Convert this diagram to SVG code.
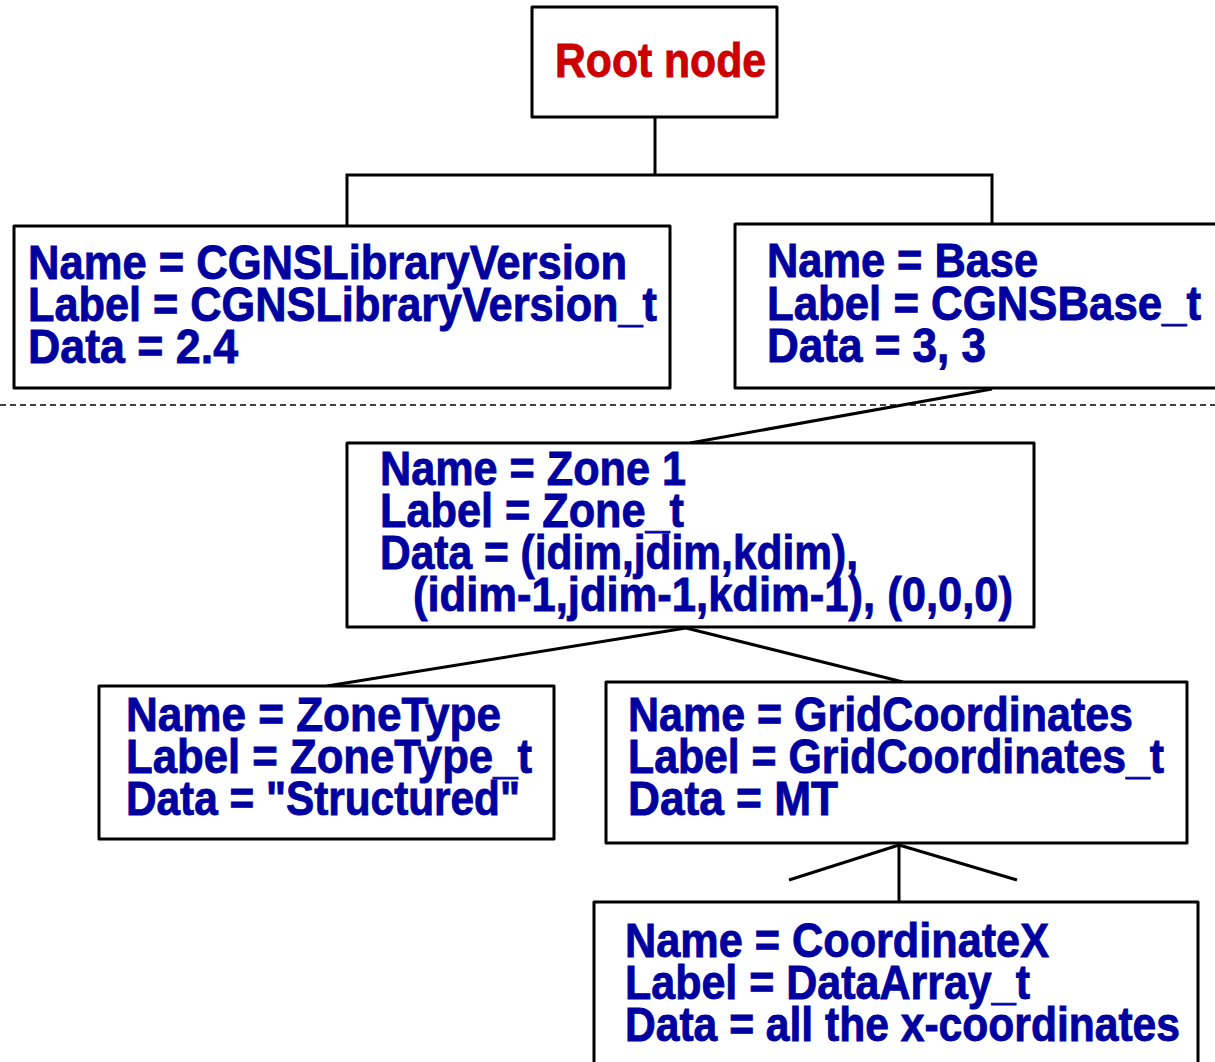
<svg xmlns="http://www.w3.org/2000/svg" width="1215" height="1062" viewBox="0 0 1215 1062">
  <style>
    .box { fill: #ffffff; stroke: #000000; stroke-width: 3; stroke-linejoin: round; }
    .wire { fill: none; stroke: #000000; stroke-width: 3; }
    .sep { fill: none; stroke: #000000; stroke-width: 1.5; stroke-dasharray: 6 4; }
    .t { font-family: "Liberation Sans", Arial, sans-serif; font-weight: bold; font-size: 49px; fill: #0000A0; stroke: #0000A0; stroke-width: 0.9; }
    .root { fill: #CC0000; stroke: #CC0000; }
  </style>
  <rect width="1215" height="1062" fill="#ffffff"/>

  <!-- tree connectors -->
  <g id="connectors">
    <polyline class="wire" points="655,117 655,175"/>
    <polyline class="wire" points="347,226 347,175 992,175 992,224"/>
    <line class="wire" x1="992" y1="389" x2="690" y2="443"/>
    <line class="wire" x1="686" y1="628" x2="327" y2="686"/>
    <line class="wire" x1="686" y1="628" x2="903" y2="682"/>
    <line class="wire" x1="899" y1="843" x2="899" y2="902"/>
    <line class="wire" x1="899" y1="845" x2="789" y2="880"/>
    <line class="wire" x1="899" y1="845" x2="1017" y2="880"/>
  </g>

  <!-- separator between top-level nodes and base contents -->
  <line class="sep" x1="0" y1="405" x2="1215" y2="405"/>

  <g id="root">
    <rect class="box" x="532" y="7" width="245" height="110"/>
    <text class="t root" x="555" y="77" textLength="211" lengthAdjust="spacingAndGlyphs">Root node</text>
  </g>

  <g id="libversion">
    <rect class="box" x="14" y="226" width="656" height="162"/>
    <text class="t" x="28" y="279" textLength="599" lengthAdjust="spacingAndGlyphs">Name = CGNSLibraryVersion</text>
    <text class="t" x="28" y="321" textLength="629" lengthAdjust="spacingAndGlyphs">Label = CGNSLibraryVersion_t</text>
    <text class="t" x="28" y="363" textLength="210" lengthAdjust="spacingAndGlyphs">Data = 2.4</text>
  </g>

  <g id="base">
    <rect class="box" x="735" y="224" width="500" height="164"/>
    <text class="t" x="767" y="277" textLength="271" lengthAdjust="spacingAndGlyphs">Name = Base</text>
    <text class="t" x="767" y="320" textLength="434" lengthAdjust="spacingAndGlyphs">Label = CGNSBase_t</text>
    <text class="t" x="767" y="362" textLength="219" lengthAdjust="spacingAndGlyphs">Data = 3, 3</text>
  </g>

  <g id="zone1">
    <rect class="box" x="347" y="443" width="687" height="184"/>
    <text class="t" x="380" y="485" textLength="306" lengthAdjust="spacingAndGlyphs">Name = Zone 1</text>
    <text class="t" x="380" y="527" textLength="304" lengthAdjust="spacingAndGlyphs">Label = Zone_t</text>
    <text class="t" x="380" y="569" textLength="478" lengthAdjust="spacingAndGlyphs">Data = (idim,jdim,kdim),</text>
    <text class="t" x="413" y="611" textLength="600" lengthAdjust="spacingAndGlyphs">(idim-1,jdim-1,kdim-1), (0,0,0)</text>
  </g>

  <g id="zonetype">
    <rect class="box" x="99" y="686" width="455" height="153"/>
    <text class="t" x="126" y="731" textLength="375" lengthAdjust="spacingAndGlyphs">Name = ZoneType</text>
    <text class="t" x="126" y="773" textLength="406" lengthAdjust="spacingAndGlyphs">Label = ZoneType_t</text>
    <text class="t" x="126" y="815" textLength="394" lengthAdjust="spacingAndGlyphs">Data = "Structured"</text>
  </g>

  <g id="gridcoordinates">
    <rect class="box" x="606" y="682" width="581" height="161"/>
    <text class="t" x="628" y="731" textLength="505" lengthAdjust="spacingAndGlyphs">Name = GridCoordinates</text>
    <text class="t" x="628" y="773" textLength="536" lengthAdjust="spacingAndGlyphs">Label = GridCoordinates_t</text>
    <text class="t" x="628" y="815" textLength="210" lengthAdjust="spacingAndGlyphs">Data = MT</text>
  </g>

  <g id="coordinatex">
    <rect class="box" x="594" y="902" width="604" height="180"/>
    <text class="t" x="625" y="957" textLength="424" lengthAdjust="spacingAndGlyphs">Name = CoordinateX</text>
    <text class="t" x="625" y="999" textLength="405" lengthAdjust="spacingAndGlyphs">Label = DataArray_t</text>
    <text class="t" x="625" y="1041" textLength="555" lengthAdjust="spacingAndGlyphs">Data = all the x-coordinates</text>
  </g>
</svg>
